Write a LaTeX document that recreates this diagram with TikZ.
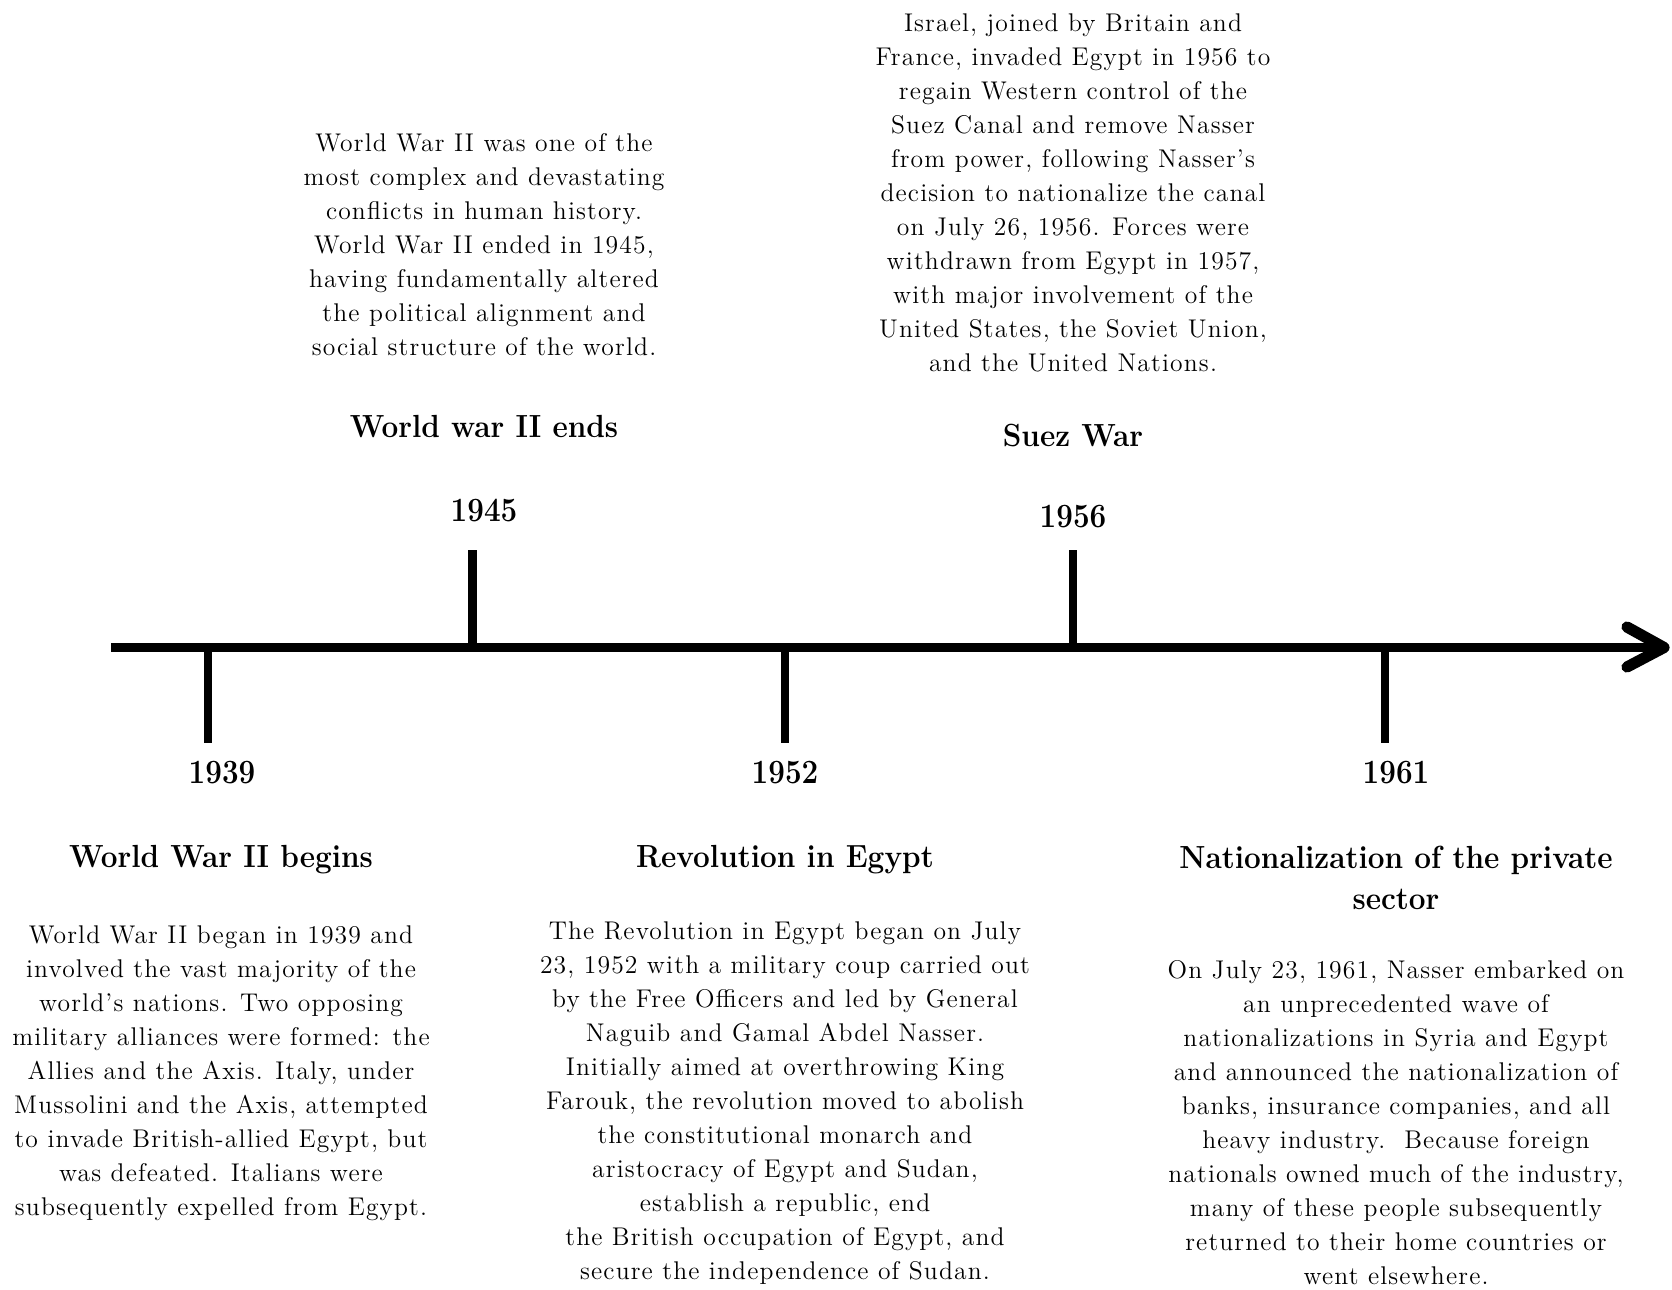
\documentclass[tikz,border=0pt]{standalone}
\usepackage{fontspec}
\setmainfont{Latin Modern Roman}
\newfontfamily\tlbodyfont{Latin Modern Roman}[LetterSpace=4.5]
\newfontfamily\tlheadfont{Latin Modern Roman}[FakeStretch=0.93]
\newfontfamily\tlyearfont{Latin Modern Roman}[FakeStretch=0.87]
\begin{document}
\begin{tikzpicture}[x=0.5pt,y=-0.5pt,
  bodytext/.style={align=center,inner sep=0pt,font=\tlbodyfont\fontsize{12.8}{17}\selectfont},
  headtext/.style={align=center,inner sep=0pt,anchor=base,font=\tlheadfont\bfseries\fontsize{16}{20.5}\selectfont},
  yeartext/.style={inner sep=0pt,anchor=base,font=\tlyearfont\bfseries\fontsize{17}{20}\selectfont},
  axisline/.style={line width=4.6pt},
  tickline/.style={line width=4.3pt},
  chevron/.style={line width=5.6pt,line cap=round,line join=round}]
\useasboundingbox (0,0) rectangle (1672,1290);
% axis
\coordinate (start) at (111,647.5);
\coordinate (end) at (1660,647.5);
\draw[axisline] (start) -- (end);
\coordinate (aup) at (1627,627);
\coordinate (atip) at (1664,647.5);
\coordinate (alow) at (1627,667);
\draw[chevron] (aup) -- (atip) -- (alow);
% ticks
\coordinate (t39) at (208,647.5); \coordinate (t39e) at (208,743);
\coordinate (t45) at (472.5,647.5); \coordinate (t45e) at (472.5,550);
\coordinate (t52) at (785,647.5); \coordinate (t52e) at (785,743);
\coordinate (t56) at (1073,647.5); \coordinate (t56e) at (1073,550);
\coordinate (t61) at (1385,647.5); \coordinate (t61e) at (1385,743);
\draw[tickline] (t39) -- (t39e);
\draw[tickline] (t45) -- (t45e);
\draw[tickline] (t52) -- (t52e);
\draw[tickline] (t56) -- (t56e);
\draw[tickline] (t61) -- (t61e);
% years
\node[yeartext] (y39) at (222,783) {1939};
\node[yeartext] (y45) at (484,521) {1945};
\node[yeartext] (y52) at (785,783) {1952};
\node[yeartext] (y56) at (1073,527) {1956};
\node[yeartext] (y61) at (1396,783) {1961};
% headings
\node[headtext] (h45) at (484,437) {World war II ends};
\node[headtext] (h56) at (1073,446) {Suez War};
\node[headtext] (h39) at (221,867) {World War II begins};
\node[headtext] (h52) at (785,867) {Revolution in Egypt};
\node[headtext,anchor=center] (h61) at (1396,878) {Nationalization of the private\\sector};
% bodies
\node[bodytext] (b45) at (484,245) {World War II was one of the\\most complex and devastating\\conflicts in human history.\\World War II ended in 1945,\\having fundamentally altered\\the political alignment and\\social structure of the world.};
\node[bodytext] (b56) at (1073,193) {Israel, joined by Britain and\\France, invaded Egypt in 1956 to\\regain Western control of the\\Suez Canal and remove Nasser\\from power, following Nasser’s\\decision to nationalize the canal\\on July 26, 1956. Forces were\\withdrawn from Egypt in 1957,\\with major involvement of the\\United States, the Soviet Union,\\and the United Nations.};
\node[bodytext] (b39) at (221,1073) {World War II began in 1939 and\\involved the vast majority of the\\world’s nations. Two opposing\\military alliances were formed: the\\Allies and the Axis. Italy, under\\Mussolini and the Axis, attempted\\to invade British-allied Egypt, but\\was defeated. Italians were\\subsequently expelled from Egypt.};
\node[bodytext] (b52) at (785,1103) {The Revolution in Egypt began on July\\23, 1952 with a military coup carried out\\by the Free Officers and led by General\\Naguib and Gamal Abdel Nasser.\\Initially aimed at overthrowing King\\Farouk, the revolution moved to abolish\\the constitutional monarch and\\aristocracy of Egypt and Sudan,\\establish a republic, end\\the British occupation of Egypt, and\\secure the independence of Sudan.};
\node[bodytext] (b61) at (1396,1123) {On July 23, 1961, Nasser embarked on\\an unprecedented wave of\\nationalizations in Syria and Egypt\\and announced the nationalization of\\banks, insurance companies, and all\\heavy industry.\ \ Because foreign\\nationals owned much of the industry,\\many of these people subsequently\\returned to their home countries or\\went elsewhere.};
\end{tikzpicture}
\end{document}
